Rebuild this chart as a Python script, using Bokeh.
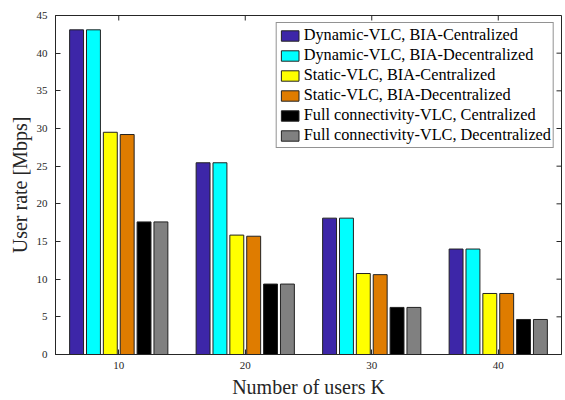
import math
from bokeh.plotting import figure
from bokeh.models import FixedTicker, Range1d, Legend, LegendItem, ColumnDataSource
from bokeh.embed import file_html
from bokeh.resources import INLINE

# ---- data ----
users_K = [10, 20, 30, 40]
dynamic_centralized = [43.1, 25.45, 18.1, 14.0]
dynamic_decentralized = [43.1, 25.45, 18.1, 14.0]
static_centralized = [29.5, 15.85, 10.75, 8.1]
static_decentralized = [29.2, 15.7, 10.6, 8.1]
full_centralized = [17.6, 9.35, 6.25, 4.65]
full_decentralized = [17.6, 9.35, 6.25, 4.65]

series_names = [
    "Dynamic-VLC, BIA-Centralized",
    "Dynamic-VLC, BIA-Decentralized",
    "Static-VLC, BIA-Centralized",
    "Static-VLC, BIA-Decentralized",
    "Full connectivity-VLC, Centralized",
    "Full connectivity-VLC, Decentralized",
]
series_values = [dynamic_centralized, dynamic_decentralized, static_centralized,
                 static_decentralized, full_centralized, full_decentralized]
series_colors = ["#3D26A8", "#00FFFF", "#FFFF00", "#DF7C00", "#000000", "#808080"]

y_ticks = [0, 5, 10, 15, 20, 25, 30, 35, 40, 45]
x_ticks = users_K
x_lo, x_hi = 5, 45
y_lo, y_hi = 0, 45

FONT = "Liberation Serif"
AX = "#262626"

p = figure(width=565, height=400, output_backend="svg", toolbar_location=None,
           x_range=Range1d(x_lo, x_hi), y_range=Range1d(y_lo, y_hi),
           min_border_left=55, min_border_right=4, min_border_top=15,
           min_border_bottom=46)
p.grid.visible = False
p.outline_line_color = AX
p.outline_line_width = 1
p.background_fill_color = "white"
p.border_fill_color = "white"

n = len(series_names)
pitch = 8.0 / n
items = []
for i, (name, vals, col) in enumerate(zip(series_names, series_values, series_colors)):
    off = (i - (n - 1) / 2) * pitch
    src = ColumnDataSource(dict(x=[k + off for k in users_K], top=vals))
    r = p.vbar(x="x", top="top", bottom=0, width=1.1, source=src,
               fill_color=col, line_color="#222222", line_width=1)
    items.append(LegendItem(label=name, renderers=[r]))

# mirrored inward ticks on the top and right edges of the box
p.ray(x=x_ticks, y=[y_hi] * len(x_ticks), length=5, length_units="screen",
      angle=-math.pi / 2, line_color=AX, line_width=1)
p.ray(x=[x_hi] * len(y_ticks), y=y_ticks, length=5, length_units="screen",
      angle=math.pi, line_color=AX, line_width=1)

def style_axis(ax):
    ax.axis_line_color = AX
    ax.axis_line_width = 1
    ax.major_tick_line_color = AX
    ax.major_tick_in = 5
    ax.major_tick_out = 0
    ax.minor_tick_line_color = None
    ax.major_label_text_font = FONT
    ax.major_label_text_font_size = "11px"
    ax.major_label_text_color = AX
    ax.major_label_text_line_height = 1.0
    ax.axis_label_text_font = FONT
    ax.axis_label_text_font_style = "normal"
    ax.axis_label_text_font_size = "20px"
    ax.axis_label_text_color = AX
    ax.axis_label_text_line_height = 1.0

xa = p.xaxis[0]
xa.ticker = FixedTicker(ticks=x_ticks)
style_axis(xa)
xa.major_label_standoff = 7
xa.axis_label = "Number of users K"
xa.axis_label_standoff = 4

ya = p.yaxis[0]
ya.ticker = FixedTicker(ticks=y_ticks)
style_axis(ya)
ya.major_label_standoff = 8
ya.axis_label = "User rate [Mbps]"
ya.axis_label_standoff = 3
ya.axis_label_text_font_size = "20px"

legend = Legend(items=items, location="top_right", margin=7,
                padding=2, spacing=0, label_height=17, glyph_height=13,
                glyph_width=22, label_standoff=3,
                label_text_font=FONT, label_text_font_size="16.3px",
                label_text_line_height=0.95,
                label_text_color="#000000",
                border_line_color=AX, border_line_width=1,
                background_fill_color="white", background_fill_alpha=1)
p.add_layout(legend, "center")

open("out.html", "w").write(file_html(p, INLINE))
